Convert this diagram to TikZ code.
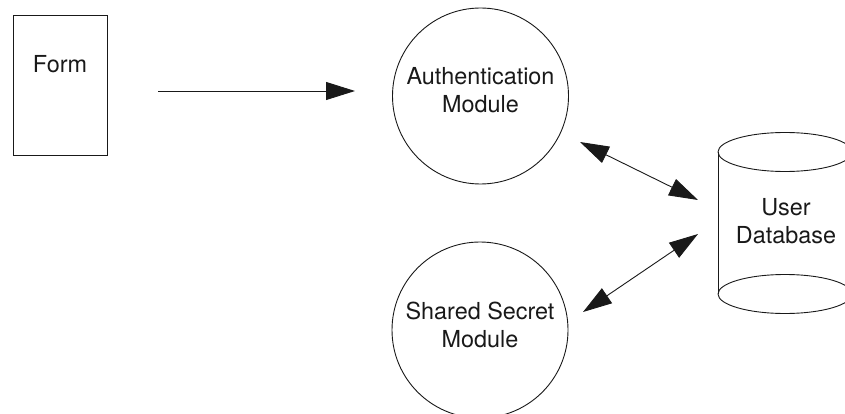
\documentclass[tikz,border=0pt]{standalone}
\usepackage{fontspec}
\setmainfont{TeX Gyre Heros}
\usetikzlibrary{arrows.meta}
\begin{document}
\begin{tikzpicture}[x=1pt,y=-1pt,
  line/.style={line width=0.9pt, draw=black!90},
  lbl/.style={font=\fontsize{23.4}{28.5}\selectfont, align=center, inner sep=0pt, text=black!90},
  modcirc/.style={line, circle, minimum size=176pt, inner sep=0pt},
  tip/.tip={Triangle[length=29pt,width=18pt]},
  flow/.style={line, -tip},
  biflow/.style={line, tip-tip}]
\clip (0,0) rectangle (845,414);
% Form
\node[line, rectangle, minimum width=94pt, minimum height=140pt, inner sep=0pt] (form) at (60,85) {};
\node[lbl, anchor=base] (formlbl) at (60,73) {Form};
% modules
\node[modcirc] (auth) at (480.5,96) {};
\node[lbl] (authlbl) at (480.5,90) {Authentication\\Module};
\node[modcirc] (shared) at (480,330) {};
\node[lbl] (sharedlbl) at (480,325) {Shared Secret\\Module};
% database cylinder
\draw[line] (718,152) -- (718,294);
\draw[line] (852,152) -- (852,294);
\draw[line] (785,152) ellipse [x radius=67pt, y radius=19.5pt];
\draw[line] (785,294) ellipse [x radius=67pt, y radius=19.5pt];
\node[lbl] (db) at (786,221) {User\\Database};
% connector end points
\coordinate (f1) at (158,91);
\coordinate (f2) at (355,91);
\coordinate (a1) at (580,142);
\coordinate (a2) at (698,200);
\coordinate (s1) at (698,234);
\coordinate (s2) at (583,312);
\draw[flow] (f1) -- (f2);
\draw[biflow] (a1) -- (a2);
\draw[biflow] (s1) -- (s2);
\end{tikzpicture}
\end{document}
